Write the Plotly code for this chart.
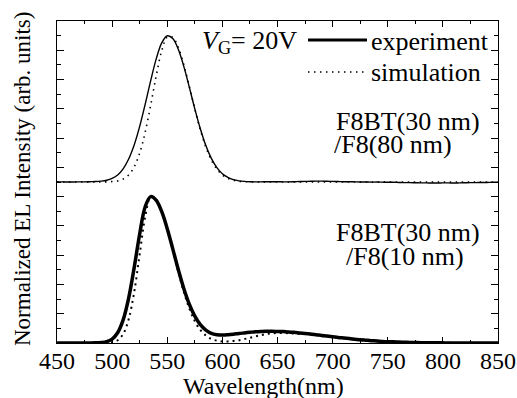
import plotly.graph_objects as go

# Wavelength grid (nm)
wavelength = list(range(450, 855, 5))

# F8BT(30 nm)/F8(80 nm) - normalized EL
top_experiment = [
    0.000, 0.001, 0.000, 0.000, 0.001, 0.001, 0.002, 0.003, 0.006, 0.012,
    0.025, 0.048, 0.090, 0.157, 0.253, 0.380, 0.532, 0.693, 0.841, 0.950,
    0.999, 0.981, 0.907, 0.790, 0.648, 0.500, 0.364, 0.249, 0.161, 0.098,
    0.056, 0.031, 0.016, 0.008, 0.004, 0.002, 0.001, 0.001, 0.002, 0.002,
    0.002, 0.001, 0.001, 0.002, 0.003, 0.004, 0.005, 0.006, 0.006, 0.005,
    0.004, 0.003, 0.002, 0.002, 0.001, 0.000, 0.000, -0.001, 0.000, -0.001,
    -0.002, -0.002, -0.003, -0.004, -0.004, -0.005, -0.006, -0.006, -0.007, -0.007,
    -0.006, -0.006, -0.007, -0.006, -0.005, -0.004, -0.004, -0.003, -0.003, -0.002,
    -0.002,
]
top_simulation = [
    0, 0, 0, 0, 0, 0, 0, 0, 0, 0.001,
    0.003, 0.007, 0.020, 0.048, 0.103, 0.198, 0.341, 0.526, 0.726, 0.897,
    0.991, 0.988, 0.919, 0.801, 0.653, 0.499, 0.357, 0.239, 0.150, 0.088,
    0.048, 0.025, 0.012, 0.005, 0.002, 0.001, 0, 0, 0, 0,
    0, 0, 0, 0, 0, 0, 0, 0, 0, 0,
    0, 0, 0, 0, 0, 0, 0, 0, 0, 0,
    0, 0, 0, 0, 0, 0, 0, 0, 0, 0,
    0, 0, 0, 0, 0, 0, 0, 0, 0, 0,
    0,
]

# F8BT(30 nm)/F8(10 nm) - normalized EL
bottom_experiment = [
    0, 0, 0, 0, 0, 0, 0, 0.001, 0.003, 0.009,
    0.027, 0.070, 0.158, 0.307, 0.515, 0.745, 0.931, 1.000, 0.975, 0.897,
    0.781, 0.643, 0.502, 0.373, 0.265, 0.183, 0.125, 0.088, 0.066, 0.057,
    0.054, 0.056, 0.060, 0.065, 0.069, 0.073, 0.077, 0.079, 0.080, 0.080,
    0.079, 0.078, 0.075, 0.073, 0.069, 0.065, 0.061, 0.057, 0.052, 0.048,
    0.043, 0.038, 0.034, 0.030, 0.026, 0.022, 0.019, 0.016, 0.014, 0.011,
    0.009, 0.008, 0.006, 0.005, 0.004, 0.003, 0.002, 0.002, 0.001, 0.001,
    0.001, 0, 0, 0, 0, 0, 0, 0, 0, 0,
    0,
]
bottom_simulation = [
    0, 0, 0, 0, 0, 0, 0, 0, 0, 0.001,
    0.005, 0.019, 0.061, 0.162, 0.347, 0.607, 0.862, 0.996, 0.980, 0.904,
    0.783, 0.637, 0.487, 0.350, 0.236, 0.149, 0.089, 0.051, 0.028, 0.016,
    0.011, 0.011, 0.014, 0.019, 0.027, 0.036, 0.045, 0.054, 0.061, 0.066,
    0.068, 0.068, 0.067, 0.065, 0.063, 0.061, 0.058, 0.054, 0.051, 0.047,
    0.043, 0.039, 0.035, 0.031, 0.028, 0.024, 0.021, 0.018, 0.015, 0.013,
    0.011, 0.009, 0.007, 0.006, 0.005, 0.004, 0.003, 0.002, 0.002, 0.001,
    0.001, 0.001, 0, 0, 0, 0, 0, 0, 0, 0,
    0,
]

x_ticks = [450, 500, 550, 600, 650, 700, 750, 800, 850]

TOP_OFFSET = 1.1
FONT = "Times New Roman, Liberation Serif, Tinos, Times, serif"

fig = go.Figure()

fig.add_trace(go.Scatter(
    x=wavelength, y=[v + TOP_OFFSET for v in top_simulation], mode="lines",
    line=dict(color="black", width=1.6, dash="1.5px,4.5px", shape="spline"),
    showlegend=False))
fig.add_trace(go.Scatter(
    x=wavelength, y=[v + TOP_OFFSET for v in top_experiment], mode="lines",
    line=dict(color="black", width=1.4, shape="spline"), showlegend=False))
fig.add_trace(go.Scatter(
    x=wavelength, y=bottom_simulation, mode="lines",
    line=dict(color="black", width=2, dash="2px,4px", shape="spline"),
    showlegend=False))
fig.add_trace(go.Scatter(
    x=wavelength, y=bottom_experiment, mode="lines",
    line=dict(color="black", width=3.5, shape="spline"), showlegend=False))

tickfont = dict(family=FONT, size=24, color="black")

fig.update_xaxes(
    range=[450, 850], tickvals=x_ticks, ticktext=[str(t) for t in x_ticks],
    ticks="inside", ticklen=6, tickwidth=1, tickcolor="black",
    minor=dict(dtick=25, tick0=450, ticks="inside", ticklen=3, tickcolor="black"),
    showline=True, linecolor="black", linewidth=1, mirror="allticks",
    showgrid=False, zeroline=False, tickfont=tickfont,
    ticklabeloverflow="allow", ticklabelstandoff=-4)
fig.update_yaxes(
    range=[0, 2.2], dtick=0.2, tick0=0,
    ticks="inside", ticklen=7, tickwidth=1, tickcolor="black",
    minor=dict(dtick=0.1, tick0=0, ticks="inside", ticklen=4, tickcolor="black"),
    showticklabels=False,
    showline=True, linecolor="black", linewidth=1, mirror="allticks",
    showgrid=False, zeroline=False)

L, R, T, B = 57, 19, 21, 55
W, H = 517, 398
pw, ph = W - L - R, H - T - B

def px(xp):
    return (xp - L) / pw

def py(yp):
    return (H - B - yp) / ph

ann_font = dict(family=FONT, size=26, color="black")
legend_texts = [
    dict(text="<i>V</i><sub>G</sub>= 20V", x=px(200), y=py(42)),
    dict(text="experiment", x=px(369), y=py(41)),
    dict(text="simulation", x=px(369), y=py(72)),
]
for a in legend_texts:
    fig.add_annotation(xref="paper", yref="paper", xanchor="left", yanchor="middle",
                       showarrow=False, font=ann_font, **a)

sample_labels = [
    dict(text="F8BT(30 nm)", x=px(335), y=py(124)),
    dict(text="/F8(80 nm)", x=px(333), y=py(147)),
    dict(text="F8BT(30 nm)", x=px(335), y=py(235)),
    dict(text="/F8(10 nm)", x=px(345), y=py(259)),
]
for a in sample_labels:
    fig.add_annotation(xref="paper", yref="paper", xanchor="left", yanchor="middle",
                       height=23, valign="bottom", borderpad=0,
                       showarrow=False, font=ann_font, **a)

fig.add_annotation(text="Wavelength(nm)", xref="paper", yref="paper",
                   x=px(263), y=py(386), xanchor="center", yanchor="middle",
                   showarrow=False, font=dict(family=FONT, size=24, color="black"))
fig.add_annotation(text="Normalized EL Intensity (arb. units)", xref="paper", yref="paper",
                   x=px(22), y=py(179), xanchor="center", yanchor="middle", textangle=-90,
                   showarrow=False, font=dict(family=FONT, size=23, color="black"))

# legend samples
fig.add_shape(type="line", xref="paper", yref="paper", x0=px(308), x1=px(367),
              y0=py(40), y1=py(40), line=dict(color="black", width=3))
fig.add_shape(type="line", xref="paper", yref="paper", x0=px(308), x1=px(367),
              y0=py(72), y1=py(72), line=dict(color="black", width=1.5, dash="1.5px,4.5px"))

fig.update_layout(
    width=W, height=H, margin=dict(l=L, r=R, t=T, b=B, autoexpand=False),
    paper_bgcolor="white", plot_bgcolor="white", showlegend=False,
    font=dict(family=FONT, color="black"))

fig.write_html("out.html", config={"displayModeBar": False},
               post_script="document.body.style.margin='0';")
